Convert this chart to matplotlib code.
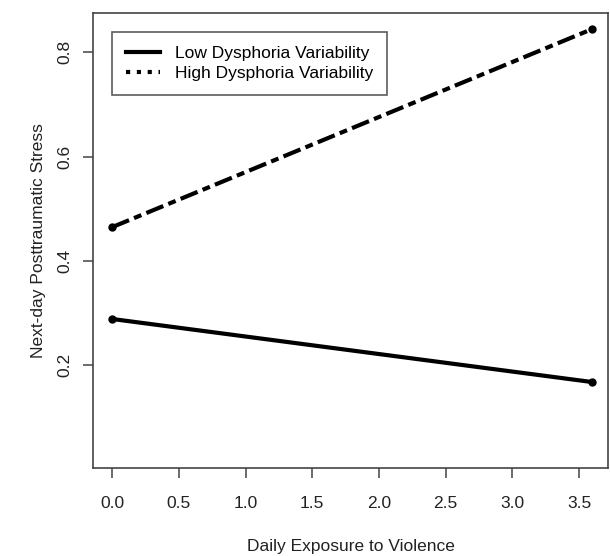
import matplotlib
matplotlib.use("Agg")
import matplotlib.pyplot as plt
from matplotlib.lines import Line2D

# data
exposure = [0.0, 3.6]
low_var = [0.289, 0.168]
high_var = [0.465, 0.845]

xticks = [0.0, 0.5, 1.0, 1.5, 2.0, 2.5, 3.0, 3.5]
yticks = [0.2, 0.4, 0.6, 0.8]

plt.rcParams['font.family'] = ['Liberation Sans', 'DejaVu Sans']
fs = 12.5

fig = plt.figure(figsize=(6.1, 5.56), dpi=100)
ax = fig.add_axes([0.152, 0.158, 0.845, 0.819])

ax.plot(exposure, low_var, color='black', lw=3, solid_capstyle='butt',
        marker='o', markersize=5)
ax.plot(exposure, high_var, color='black', lw=3, dashes=(4.4, 1.3, 1.9, 1.3),
        marker='o', markersize=5)

ax.set_xlim(-0.145, 3.718)
ax.set_ylim(0.003, 0.876)
ax.set_xticks(xticks)
ax.set_xticklabels(['%.1f' % t for t in xticks])
ax.set_yticks(yticks)
ax.set_yticklabels(['%.1f' % t for t in yticks], rotation=90, va='center')

for s in ax.spines.values():
    s.set_color('#444444')
    s.set_linewidth(1.2)
ax.tick_params(axis='both', length=7, width=1.1, color='#444444', labelsize=fs, labelcolor='#222222')
ax.tick_params(axis='x', pad=13)
ax.tick_params(axis='y', pad=8)

ax.set_xlabel('Daily Exposure to Violence', fontsize=fs, color='#222222', labelpad=20)
ax.set_ylabel('Next-day Posttraumatic Stress', fontsize=fs, color='#222222', labelpad=8)

handles = [Line2D([], [], color='black', lw=3),
           Line2D([], [], color='black', lw=3, linestyle=(0, (1, 1.6)))]
leg = ax.legend(handles, ['Low Dysphoria Variability', 'High Dysphoria Variability'],
                loc='upper left', bbox_to_anchor=(0.037, 0.958), fontsize=fs,
                frameon=True, fancybox=False, edgecolor='#333333', handlelength=2.0,
                labelspacing=0.3, borderpad=0.8, handletextpad=0.85, borderaxespad=0)
leg.get_frame().set_linewidth(1.2)

fig.savefig('out.png', dpi=100)
